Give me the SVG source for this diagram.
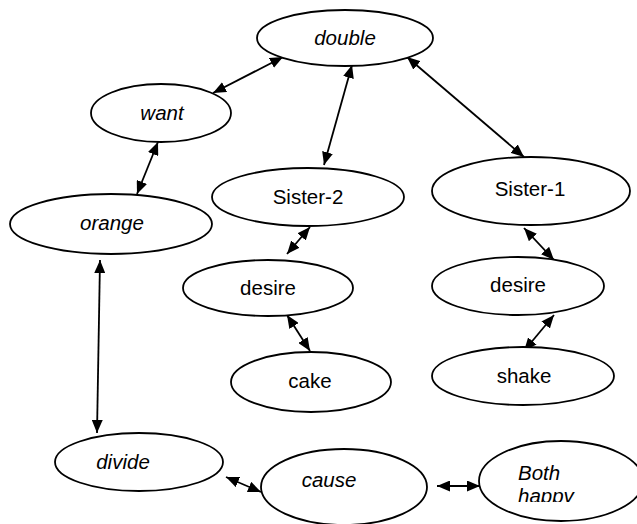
<svg xmlns="http://www.w3.org/2000/svg" width="637" height="524" viewBox="0 0 637 524">
<style>
.n ellipse{fill:#fff;stroke:#000;stroke-width:1.8}
.n text{font-family:"Liberation Sans",Arial,sans-serif;font-size:20.5px;fill:#000;text-anchor:middle}
.n text.i{font-style:italic}
#edges line{stroke:#000;stroke-width:1.8;marker-start:url(#ah);marker-end:url(#ah)}
</style>
<defs>
<marker id="ah" viewBox="0 0 13 11" refX="13" refY="5.5" markerWidth="13" markerHeight="11" markerUnits="userSpaceOnUse" orient="auto-start-reverse">
<path d="M0,0 L13,5.5 L0,11 Z" fill="#000"/>
</marker>
<clipPath id="hc"><rect x="470" y="440" width="167" height="62"/></clipPath>
</defs>
<rect width="637" height="524" fill="#fff"/>
<g id="edges">
<line x1="213" y1="93" x2="283" y2="57"/>
<line x1="158" y1="142" x2="137" y2="194"/>
<line x1="352" y1="65" x2="324" y2="165"/>
<line x1="407" y1="57" x2="524" y2="157"/>
<line x1="310" y1="227" x2="287" y2="254"/>
<line x1="524" y1="228" x2="554" y2="260"/>
<line x1="287" y1="315" x2="310" y2="351"/>
<line x1="554" y1="315" x2="524" y2="351"/>
<line x1="100" y1="260" x2="97" y2="433"/>
<line x1="226" y1="477" x2="261" y2="492"/>
<line x1="437" y1="486" x2="480" y2="486"/>
</g>
<g id="double" class="n"><ellipse cx="345" cy="38" rx="88" ry="28"/><text class="i" x="345" y="45">double</text></g>
<g id="want" class="n"><ellipse cx="161" cy="113" rx="70" ry="29"/><text class="i" x="162" y="120">want</text></g>
<g id="orange" class="n"><ellipse cx="111" cy="224" rx="101" ry="30"/><text class="i" x="112" y="230">orange</text></g>
<g id="sister2" class="n"><ellipse cx="308" cy="197" rx="96" ry="29"/><text x="308" y="204">Sister-2</text></g>
<g id="sister1" class="n"><ellipse cx="531" cy="191" rx="99" ry="34"/><text x="530" y="196">Sister-1</text></g>
<g id="desire2" class="n"><ellipse cx="268" cy="288" rx="85" ry="28"/><text x="268" y="295">desire</text></g>
<g id="desire1" class="n"><ellipse cx="518" cy="286" rx="86" ry="29"/><text x="518" y="292">desire</text></g>
<g id="cake" class="n"><ellipse cx="311" cy="382" rx="80" ry="30"/><text x="310" y="388">cake</text></g>
<g id="shake" class="n"><ellipse cx="523" cy="376" rx="91" ry="29"/><text x="524" y="383">shake</text></g>
<g id="divide" class="n"><ellipse cx="139" cy="462" rx="84" ry="29"/><text class="i" x="123" y="469">divide</text></g>
<g id="cause" class="n"><ellipse cx="344" cy="487" rx="83" ry="38"/><text class="i" x="329" y="487">cause</text></g>
<g id="bothhappy" class="n"><ellipse cx="561" cy="481" rx="82" ry="40"/><g clip-path="url(#hc)"><text class="i" x="518" y="480" style="text-anchor:start">Both</text><text class="i" x="518" y="503" style="text-anchor:start">happy</text></g></g>
</svg>
